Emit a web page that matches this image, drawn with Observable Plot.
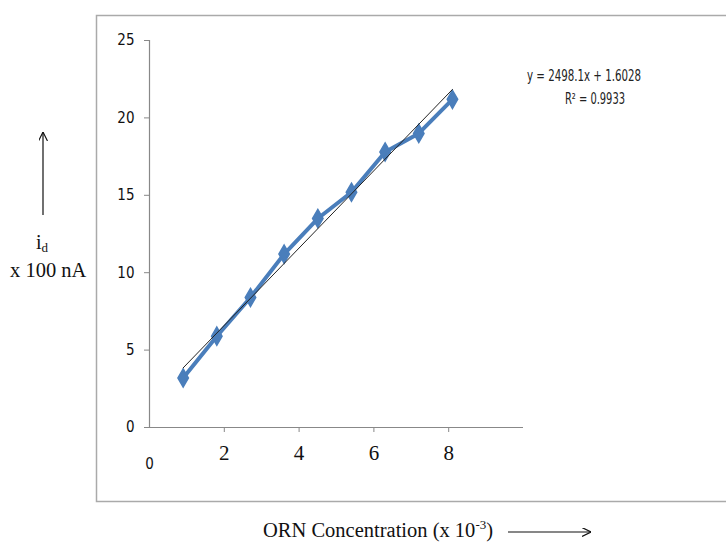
<!DOCTYPE html>
<html>
<head>
<meta charset="utf-8">
<script src="https://cdn.jsdelivr.net/npm/d3@7"></script>
<script src="https://cdn.jsdelivr.net/npm/@observablehq/plot@0.6"></script>
<style>
  html, body { margin: 0; padding: 0; background: #fff; }
  #chart { width: 726px; height: 542px; }
</style>
</head>
<body>
<div id="chart"></div>
<script>
// Data
const concentration = [0.9, 1.8, 2.7, 3.6, 4.5, 5.4, 6.3, 7.2, 8.1];
const current = [3.2, 5.9, 8.4, 11.2, 13.5, 15.2, 17.8, 19.0, 21.2];
const xTicks = [2, 4, 6, 8];
const xOriginTick = [0];
const yTicks = [0, 5, 10, 15, 20, 25];
const slope = 2.4981;      // 2498.1 per (x10^-3)
const intercept = 1.6028;
const equationText = "y = 2498.1x + 1.6028";
const r2Text = "R² = 0.9933";

const points = concentration.map((c, i) => ({x: c, y: current[i]}));
const trendX = [concentration[0], concentration[concentration.length - 1]];
const trend = trendX.map(x => ({x, y: slope * x + intercept}));

const blue = "#4a7ebb";
const W = 726, H = 542;

const plot = Plot.plot({
  width: W,
  height: H,
  marginLeft: 149,
  marginRight: 203,
  marginTop: 40,
  marginBottom: 115,
  style: {background: "transparent", overflow: "visible"},
  x: {domain: [0, 10]},
  y: {domain: [0, 25]},
  marks: [
    Plot.axisY({
      ticks: yTicks, tickSize: 5, tickPadding: 10, stroke: "#888",
      fontSize: 15, fill: "#111",
      fontFamily: "'DejaVu Sans Condensed', 'DejaVu Sans', sans-serif",
      label: null
    }),
    Plot.axisX({
      ticks: xTicks, tickSize: 5, tickPadding: 13, stroke: "#888",
      fontSize: 21, fill: "#111",
      fontFamily: "'Liberation Serif', serif",
      label: null
    }),
    Plot.axisX({
      ticks: xOriginTick, tickSize: 0, tickPadding: 31, fill: "#111",
      fontSize: 15,
      fontFamily: "'DejaVu Sans Condensed', 'DejaVu Sans', sans-serif",
      label: null
    }),
    Plot.ruleX([0], {stroke: "#888", strokeWidth: 1.2}),
    Plot.ruleY([0], {stroke: "#888", strokeWidth: 1.2}),
    Plot.line(points, {x: "x", y: "y", stroke: blue, strokeWidth: 4, strokeLinejoin: "round"}),
    Plot.dot(points, {x: "x", y: "y", symbol: "diamond", r: 5.5, fill: blue, stroke: blue, strokeWidth: 1.5}),
    Plot.line(trend, {x: "x", y: "y", stroke: "#222", strokeWidth: 1})
  ]
});

document.getElementById("chart").appendChild(plot);

// Annotations and frame
const svg = d3.select(plot);

svg.insert("rect", ":first-child")
  .attr("x", 96.5).attr("y", 15.5)
  .attr("width", 700).attr("height", 486)
  .attr("fill", "none").attr("stroke", "#aaa").attr("stroke-width", 1.5);

const defs = svg.append("defs");
defs.append("marker")
  .attr("id", "arrowhead").attr("viewBox", "0 0 10 10")
  .attr("refX", 10).attr("refY", 5)
  .attr("markerWidth", 9).attr("markerHeight", 9)
  .attr("markerUnits", "userSpaceOnUse")
  .attr("orient", "auto")
  .append("path").attr("d", "M0,0 L10,5 L0,10")
  .attr("fill", "none").attr("stroke", "#111").attr("stroke-width", 1.3);

// equation
const eq = svg.append("text")
  .style("font-family", "'DejaVu Sans Condensed', sans-serif")
  .style("font-size", "16px").attr("fill", "#222").attr("text-anchor", "start");
eq.append("tspan").attr("x", 527).attr("y", 81)
  .attr("textLength", 114).attr("lengthAdjust", "spacingAndGlyphs").text(equationText);
eq.append("tspan").attr("x", 565).attr("y", 104)
  .attr("textLength", 60).attr("lengthAdjust", "spacingAndGlyphs").text(r2Text);

// y label
svg.append("line").attr("x1", 43).attr("x2", 43).attr("y1", 215).attr("y2", 132)
  .attr("stroke", "#111").attr("stroke-width", 1.2).attr("marker-end", "url(#arrowhead)");
const id = svg.append("text").attr("x", 36).attr("y", 249).attr("text-anchor", "start")
  .style("font-family", "'Liberation Serif', serif").style("font-size", "20px").attr("fill", "#111");
id.append("tspan").text("i");
id.append("tspan").style("font-size", "13px").attr("dy", 3).text("d");
svg.append("text").attr("x", 10).attr("y", 277).attr("text-anchor", "start")
  .style("font-family", "'Liberation Serif', serif").style("font-size", "20.5px").attr("fill", "#111")
  .text("x 100 nA");

// x label
const xl = svg.append("text").attr("x", 263).attr("y", 537).attr("text-anchor", "start")
  .style("font-family", "'Liberation Serif', serif").style("font-size", "20.5px").attr("fill", "#111");
xl.append("tspan").text("ORN Concentration (x 10");
xl.append("tspan").style("font-size", "13px").attr("dy", -8).text("-3");
xl.append("tspan").attr("dy", 8).text(")");
svg.append("line").attr("x1", 508).attr("x2", 591).attr("y1", 532).attr("y2", 532)
  .attr("stroke", "#111").attr("stroke-width", 1.2).attr("marker-end", "url(#arrowhead)");
</script>
</body>
</html>
